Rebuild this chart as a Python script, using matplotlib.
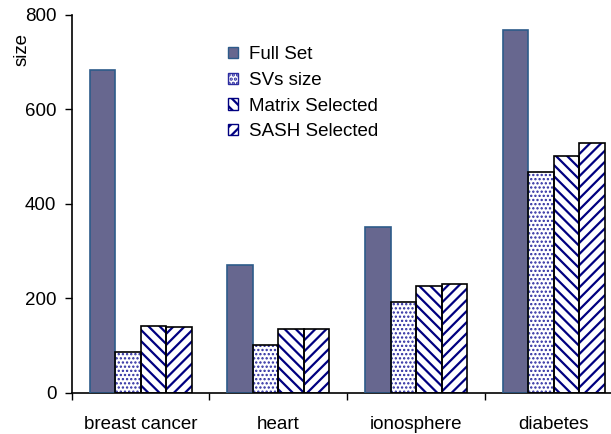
import numpy as np
import matplotlib.pyplot as plt

categories = ['breast cancer', 'heart', 'ionosphere', 'diabetes']
full_set = [683, 270, 351, 768]
svs_size = [86, 101, 192, 468]
matrix_selected = [142, 134, 226, 500]
sash_selected = [139, 134, 230, 529]

series = ['Full Set', 'SVs size', 'Matrix Selected', 'SASH Selected']
values = [full_set, svs_size, matrix_selected, sash_selected]

plt.rcParams['font.family'] = ['Liberation Sans', 'DejaVu Sans']

fig = plt.figure(figsize=(6.11, 4.34), dpi=100)
ax = fig.add_axes([0.1173, 0.0952, 0.9018, 0.871])

navy = '#000080'
styles = [
    dict(facecolor='#67678f', hatch=None, hatchcol=None, edge='#2d5b8a', hlw=1.0),
    dict(facecolor='white', hatch='....', hatchcol='#2a2aa0', edge='black', hlw=1.1),
    dict(facecolor='white', hatch='\\\\\\', hatchcol=navy, edge='black', hlw=1.6),
    dict(facecolor='white', hatch='///', hatchcol=navy, edge='black', hlw=1.6),
]

x = np.arange(len(categories))
w = 0.185
for i, (name, vals, st) in enumerate(zip(series, values, styles)):
    pos = x + (i - 1.5) * w
    plt.rcParams['hatch.linewidth'] = st['hlw']
    # fill + hatch layer
    ax.bar(pos, vals, w, facecolor=st['facecolor'], hatch=st['hatch'],
           edgecolor=st['hatchcol'] if st['hatchcol'] else st['facecolor'],
           linewidth=0, zorder=2)
    # outline layer
    ax.bar(pos, vals, w, facecolor='none', edgecolor=st['edge'],
           linewidth=1.2, zorder=3)
    # legend proxy
    ax.bar([0], [0], 0, facecolor=st['facecolor'], hatch=st['hatch'],
           edgecolor=st['hatchcol'] if st['hatchcol'] else st['edge'],
           linewidth=1.0, label=name)

ax.set_xlim(-0.5, len(categories) - 0.5)
ax.set_ylim(0, 800)
ax.set_yticks([0, 200, 400, 600, 800])
ax.set_xticks(np.arange(len(categories) + 1) - 0.5)
ax.set_xticklabels([])
ax.set_xticks(x, categories, minor=True)
ax.tick_params(axis='x', which='minor', length=0, pad=17, labelsize=13.5)
ax.tick_params(axis='x', which='major', direction='out', length=5, width=1)
ax.tick_params(axis='y', direction='out', length=5, width=1, labelsize=13.5,
               pad=6)

ax.spines['top'].set_visible(False)
ax.spines['right'].set_visible(False)
ax.spines['left'].set_linewidth(1.2)
ax.spines['bottom'].set_linewidth(1.2)

ax.set_ylabel('size', fontsize=13.5)
ax.yaxis.set_label_coords(-0.074, 0.909)

ax.legend(loc='upper left', bbox_to_anchor=(0.284, 0.916), frameon=False,
          fontsize=13.5, handlelength=0.55, handleheight=0.55,
          handletextpad=0.55, labelspacing=0.46, borderpad=0,
          borderaxespad=0)

fig.savefig('out.png', dpi=100)
